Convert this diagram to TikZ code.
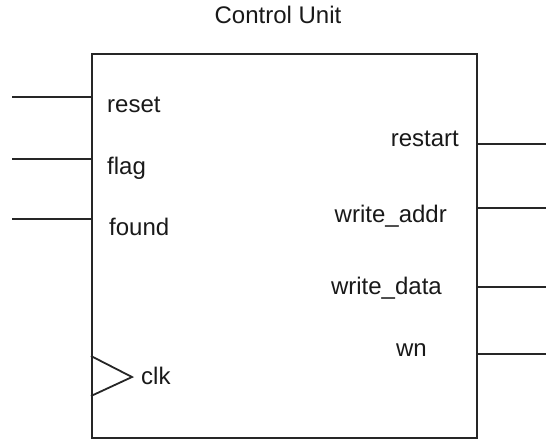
\documentclass[tikz,border=0pt]{standalone}
\usepackage{fontspec}
\setmainfont{Liberation Sans}
\begin{document}
\begin{tikzpicture}[x=1pt,y=-1pt,
  wire/.style={line width=1.8pt,draw=black!85},
  lbl/.style={inner sep=0pt,font=\fontsize{24}{28}\selectfont,text=black!90},
  lblin/.style={lbl,anchor=base west},
  lblout/.style={lbl,anchor=base east}]
\useasboundingbox (0,0) rectangle (546,440);

% block outline
\node[wire,draw,rectangle,minimum width=385pt,minimum height=384pt,
      anchor=north west,inner sep=0pt] (cu) at (91,53) {};
\node[lbl,anchor=base] (title) at (278,23) {Control Unit};

% input pins
\coordinate (reset-end) at (12,97);
\coordinate (flag-end)  at (12,159);
\coordinate (found-end) at (12,219);
\draw[wire] (reset-end) -- (reset-end -| cu.west);
\draw[wire] (flag-end)  -- (flag-end -| cu.west);
\draw[wire] (found-end) -- (found-end -| cu.west);
\node[lblin] (reset) at (107,112) {reset};
\node[lblin] (flag)  at (107,174) {flag};
\node[lblin] (found) at (109,235) {found};

% clock input
\coordinate (clk-top) at (0,356);
\coordinate (clk-tip) at (132,377);
\coordinate (clk-bot) at (0,396);
\draw[wire,line join=miter] (clk-top -| cu.west) -- (clk-tip) -- (clk-bot -| cu.west);
\node[lblin] (clk) at (141,384) {clk};

% output pins
\coordinate (restart-end) at (546,144);
\coordinate (waddr-end)   at (546,208);
\coordinate (wdata-end)   at (546,287);
\coordinate (wn-end)      at (546,354);
\draw[wire] (restart-end -| cu.east) -- (restart-end);
\draw[wire] (waddr-end -| cu.east)   -- (waddr-end);
\draw[wire] (wdata-end -| cu.east)   -- (wdata-end);
\draw[wire] (wn-end -| cu.east)      -- (wn-end);
\node[lblout] (restart) at (459,146) {restart};
\node[lblout] (waddr)   at (447,222) {write\_addr};
\node[lblout] (wdata)   at (442,294) {write\_data};
\node[lblout] (wn)      at (427,356) {wn};
\end{tikzpicture}
\end{document}
